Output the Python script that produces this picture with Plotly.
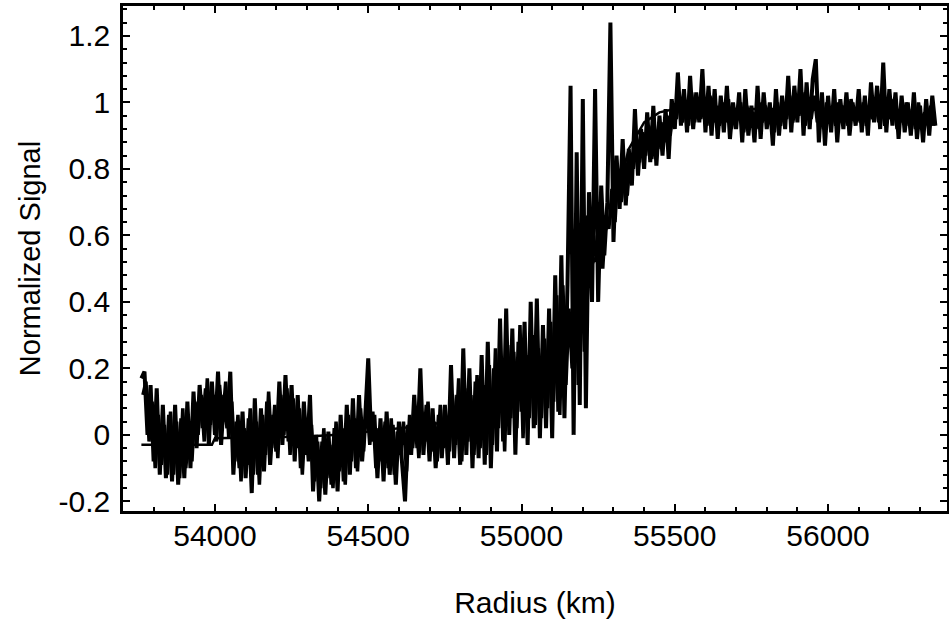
import plotly.graph_objects as go

# Profile A: sampled every 10 km starting at 53760 km
signal_start = 53760
signal_step = 10
signal_y = [
    0.17, 0.19, 0.00, 0.15, -0.08, 0.14, -0.12, 0.09, -0.13, 0.06,
    -0.14, 0.09, -0.15, 0.05, -0.13, 0.10, -0.10, 0.13, -0.04, 0.15,
    0.02, 0.14, -0.03, 0.16, 0.00, 0.19, -0.03, 0.12, 0.02, 0.19,
    -0.12, 0.04, -0.10, 0.07, -0.13, 0.05, -0.175, 0.11, -0.12, 0.08,
    -0.11, 0.10, -0.09, 0.06, -0.05, 0.16, -0.03, 0.18, -0.02, 0.15,
    -0.08, 0.12, -0.10, 0.10, -0.06, 0.12, -0.17, 0.00, -0.20, -0.02,
    -0.18, 0.01, -0.15, 0.02, -0.17, 0.06, -0.14, 0.09, -0.12, 0.11,
    -0.10, 0.12, -0.08, 0.05, 0.23, -0.02, 0.06, -0.13, 0.05, -0.14,
    0.07, -0.12, 0.03, -0.15, 0.04, -0.08, -0.20, 0.03, -0.06, 0.12,
    -0.04, 0.20, -0.06, 0.09, -0.08, 0.08, -0.10, 0.06, -0.07, 0.09,
    -0.09, 0.21, -0.07, 0.12, -0.09, 0.26, -0.06, 0.20, -0.10, 0.16,
    -0.07, 0.24, -0.09, 0.28, -0.10, 0.20, -0.05, 0.35, -0.02, 0.38,
    0.00, 0.32, -0.06, 0.28, 0.07, 0.34, -0.03, 0.40, 0.02, 0.41,
    -0.01, 0.33, 0.02, 0.38, -0.01, 0.48, 0.07, 0.54, 0.05, 0.45,
    1.05, 0.00, 0.85, 0.09, 1.01, 0.08, 0.73, 0.40, 1.04, 0.40,
    0.75, 0.54, 0.70, 1.24, 0.58, 0.84, 0.68, 0.89, 0.69, 0.86,
    0.75, 0.98, 0.78, 0.92, 0.80, 0.97, 0.82, 0.99, 0.81, 0.96,
    0.84, 0.98, 0.83, 1.01, 0.92, 1.09, 0.93, 1.04, 0.91, 1.08,
    0.92, 1.03, 0.94, 1.10, 0.91, 1.05, 0.90, 1.04, 0.89, 1.02,
    0.91, 1.05, 0.89, 1.00, 0.92, 1.03, 0.88, 1.04, 0.90, 0.99,
    0.88, 1.05, 0.89, 1.03, 0.92, 1.00, 0.87, 1.04, 0.90, 1.02,
    0.92, 1.08, 0.91, 1.05, 0.94, 1.10, 0.90, 1.06, 0.92, 1.07,
    1.13, 0.88, 1.03, 0.87, 1.02, 0.91, 1.04, 0.88, 1.01, 0.92,
    1.03, 0.90, 1.00, 0.93, 1.04, 0.91, 1.02, 0.90, 1.06, 0.94,
    1.05, 0.92, 1.12, 0.91, 1.04, 0.93, 1.03, 0.89, 1.02, 0.91,
    1.00, 0.90, 1.03, 0.89, 0.99, 0.88, 1.01, 0.90, 1.02, 0.93,
]
signal_x = [signal_start + signal_step * i for i in range(len(signal_y))]

# Profile B: overlaid readings, every 10 km starting at 53765 km
signal2_start = 53765
signal2_step = 10
signal2_y = [
    0.12, 0.16, -0.02, 0.10, -0.10, 0.06, -0.09, 0.03, -0.12, 0.07,
    -0.12, 0.04, -0.13, 0.08, -0.10, 0.02, -0.08, 0.10, 0.00, 0.12,
    -0.02, 0.17, 0.03, 0.12, -0.02, 0.15, 0.04, 0.16, -0.01, 0.10,
    -0.08, 0.06, -0.14, 0.02, -0.09, 0.08, -0.12, 0.04, -0.15, 0.06,
    -0.06, 0.13, -0.04, 0.09, -0.07, 0.12, 0.00, 0.14, -0.06, 0.11,
    -0.04, 0.08, -0.12, 0.05, -0.08, 0.03, -0.14, -0.02, -0.16, 0.02,
    -0.13, -0.03, -0.16, 0.04, -0.11, 0.02, -0.15, 0.06, -0.08, 0.05,
    -0.11, 0.08, -0.05, 0.10, -0.03, 0.07, -0.10, 0.02, -0.08, 0.04,
    -0.10, 0.05, -0.12, 0.01, -0.06, 0.04, -0.11, 0.06, -0.04, 0.08,
    -0.07, 0.07, -0.02, 0.10, -0.05, 0.04, -0.08, 0.09, -0.04, 0.05,
    -0.05, 0.12, -0.03, 0.17, -0.08, 0.14, -0.02, 0.12, -0.06, 0.18,
    -0.04, 0.15, -0.06, 0.21, -0.03, 0.26, 0.02, 0.22, -0.05, 0.27,
    0.05, 0.25, 0.02, 0.33, -0.01, 0.24, 0.05, 0.30, 0.03, 0.26,
    0.05, 0.29, 0.08, 0.34, 0.10, 0.42, 0.06, 0.45, 0.15, 0.38,
    0.20, 0.62, 0.15, 0.55, 0.25, 0.66, 0.45, 0.60, 0.52, 0.70,
    0.50, 0.66, 0.62, 0.74, 0.64, 0.80, 0.70, 0.78, 0.72, 0.84,
    0.80, 0.88, 0.82, 0.91, 0.84, 0.93, 0.83, 0.90, 0.86, 0.94,
    0.88, 0.96, 0.90, 0.98, 0.95, 1.02, 0.94, 1.00, 0.93, 1.03,
    0.94, 1.01, 0.95, 1.00, 0.93, 1.02, 0.94, 0.99, 0.93, 1.00,
    0.94, 1.01, 0.92, 0.98, 0.95, 1.00, 0.91, 0.99, 0.93, 0.97,
    0.92, 1.00, 0.94, 0.99, 0.95, 0.98, 0.91, 1.00, 0.93, 0.99,
    0.95, 1.02, 0.94, 1.00, 0.96, 1.03, 0.93, 1.01, 0.95, 1.02,
    0.94, 0.99, 0.92, 1.00, 0.94, 0.98, 0.93, 1.00, 0.95, 0.99,
    0.93, 1.01, 0.95, 0.98, 0.94, 1.00, 0.93, 0.99, 0.95, 1.01,
    0.94, 1.00, 0.93, 0.99, 0.95, 1.01, 0.92, 0.98, 0.94, 1.00,
    0.93, 0.98, 0.92, 1.00, 0.93, 0.97, 0.94, 0.99, 0.93,
]
signal2_x = [signal2_start + signal2_step * i for i in range(len(signal2_y))]

# Smooth model curve
model_x = [53760, 53990, 54000, 54300, 54400, 54500, 54600, 54700, 54800, 54900,
           55000, 55050, 55100, 55150, 55200, 55250, 55300, 55350, 55400, 55450,
           55500, 55700, 56000, 56200, 56350]
model_y = [-0.03, -0.03, -0.01, -0.005, 0.0, 0.01, 0.02, 0.03, 0.05, 0.08,
           0.13, 0.17, 0.25, 0.33, 0.45, 0.55, 0.68, 0.86, 0.94, 0.97,
           0.98, 0.98, 0.98, 0.97, 0.96]

x_ticks = [54000, 54500, 55000, 55500, 56000]
x_tick_text = ["54000", "54500", "55000", "55500", "56000"]
y_ticks = [-0.2, 0, 0.2, 0.4, 0.6, 0.8, 1, 1.2]
y_tick_text = ["-0.2", "0", "0.2", "0.4", "0.6", "0.8", "1", "1.2"]

fig = go.Figure()
fig.add_trace(go.Scatter(x=model_x, y=model_y, mode="lines",
                         line=dict(color="black", width=2.5), showlegend=False))
fig.add_trace(go.Scatter(x=signal2_x, y=signal2_y, mode="lines",
                         line=dict(color="black", width=3.5), showlegend=False))
fig.add_trace(go.Scatter(x=signal_x, y=signal_y, mode="lines",
                         line=dict(color="black", width=4), showlegend=False))

font = "Liberation Sans, Arial, Helvetica, sans-serif"
fig.update_layout(
    width=949, height=619,
    margin=dict(l=123, r=2, t=6, b=108),
    paper_bgcolor="white", plot_bgcolor="white",
    font=dict(family=font, color="black", size=30),
    xaxis=dict(
        range=[53700, 56388], tickvals=x_ticks, ticktext=x_tick_text,
        ticks="inside", ticklen=7, tickwidth=1.5, tickcolor="black",
        showline=True, linecolor="black", linewidth=2.5, mirror="allticks",
        showgrid=False, zeroline=False, automargin=False,
        minor=dict(dtick=100, ticks="inside", ticklen=4, tickcolor="black", showgrid=False),
        tickfont=dict(size=30), ticklabelstandoff=-4,
        title=dict(text="Radius (km)", font=dict(size=30), standoff=44),
    ),
    yaxis=dict(
        range=[-0.229, 1.29], tickvals=y_ticks, ticktext=y_tick_text,
        ticks="inside", ticklen=7, tickwidth=1.5, tickcolor="black",
        showline=True, linecolor="black", linewidth=2.5, mirror="allticks",
        showgrid=False, zeroline=False, automargin=False,
        minor=dict(tick0=0, dtick=0.04, ticks="inside", ticklen=4, tickcolor="black", showgrid=False),
        tickfont=dict(size=30), ticklabelstandoff=4,
        title=dict(text="Normalized Signal", font=dict(size=29), standoff=10),
    ),
)
fig.write_html("out.html")
